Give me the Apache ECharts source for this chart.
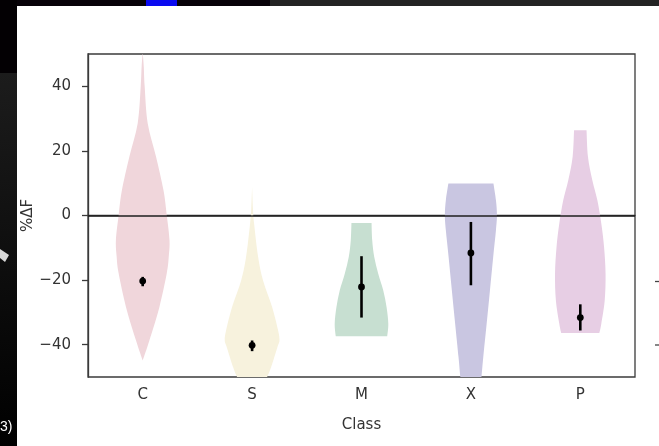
<!DOCTYPE html>
<html>
<head>
<meta charset="utf-8">
<script src="https://cdn.jsdelivr.net/npm/echarts@6/dist/echarts.min.js"></script>
<style>
  html, body { margin: 0; padding: 0; background: #fff; }
  #chart { width: 659px; height: 446px; }
</style>
</head>
<body>
<div id="chart"></div>
<script>
// Classes on the x axis
const classes = ['C', 'S', 'M', 'X', 'P'];

// Violin outlines: %ΔF levels (top to bottom) and half-widths (fraction of a class band)
const levelsC = [50.5, 46, 40, 28.5, 18.2, 7.8, 0.1, -7.7, -12.8, -17.9, -28.3, -38.7, -44.9];
const widthsC = [0.0, 0.01, 0.018, 0.046, 0.122, 0.19, 0.22, 0.245, 0.238, 0.22, 0.153, 0.061, 0.0];

const levelsS = [8.9, 2.0, -2.4, -12.8, -20.1, -28.3, -35.6, -38.7, -40.7, -46.9, -50.0, -53.0];
const widthsS = [0.0, 0.008, 0.018, 0.055, 0.10, 0.183, 0.238, 0.25, 0.232, 0.174, 0.137, 0.09];

const levelsM = [-2.3, -7.7, -12.8, -18.0, -23.2, -28.3, -33.5, -37.4];
const widthsM = [0.092, 0.098, 0.116, 0.153, 0.199, 0.229, 0.245, 0.235];

const levelsX = [9.9, 4.7, 0.1, -4.6, -12.8, -23.2, -33.5, -43.9, -49.5, -52.0];
const widthsX = [0.206, 0.229, 0.238, 0.229, 0.204, 0.174, 0.144, 0.113, 0.098, 0.09];

const levelsP = [26.4, 18.2, 10.9, 4.7, -2.5, -9.7, -18.0, -26.3, -33.5, -36.4];
const widthsP = [0.057, 0.070, 0.110, 0.156, 0.192, 0.217, 0.231, 0.223, 0.192, 0.174];

// Centre point and error bar per class
const means = [-20.3, -40.2, -22.1, -11.6, -31.6];
const barLow = [-21.9, -42.0, -31.6, -21.6, -35.6];
const barHigh = [-19.0, -38.7, -12.6, -2.0, -27.5];

// Y axis tick labels
const yTicks = [-40, -20, 0, 20, 40];

const violinLevels = [levelsC, levelsS, levelsM, levelsX, levelsP];
const violinWidths = [widthsC, widthsS, widthsM, widthsX, widthsP];
const violinColors = ['#f0d6db', '#f7f2dd', '#c7dfd1', '#c9c6e1', '#e7cee4'];

const axisColor = '#3b3b3b';
const textColor = '#333';
const font = 'DejaVu Sans';

const chart = echarts.init(document.getElementById('chart'), null, { renderer: 'canvas' });

// Smooth outline through a list of screen points (Catmull-Rom as cubic Béziers)
function curveThrough(pts) {
  let d = '';
  for (let k = 0; k < pts.length - 1; k++) {
    const p0 = pts[Math.max(k - 1, 0)];
    const p1 = pts[k];
    const p2 = pts[k + 1];
    const p3 = pts[Math.min(k + 2, pts.length - 1)];
    const c1x = p1[0] + (p2[0] - p0[0]) / 6, c1y = p1[1] + (p2[1] - p0[1]) / 6;
    const c2x = p2[0] - (p3[0] - p1[0]) / 6, c2y = p2[1] - (p3[1] - p1[1]) / 6;
    d += ' C' + c1x.toFixed(2) + ',' + c1y.toFixed(2) + ' ' + c2x.toFixed(2) + ',' + c2y.toFixed(2) +
         ' ' + p2[0].toFixed(2) + ',' + p2[1].toFixed(2);
  }
  return d;
}

function renderViolin(params, api) {
  const i = api.value(0);
  const band = api.size([1, 0])[0];
  const levels = violinLevels[i];
  const widths = violinWidths[i];
  const right = [];
  const left = [];
  for (let k = 0; k < levels.length; k++) {
    const p = api.coord([i, levels[k]]);
    right.push([p[0] + widths[k] * band, p[1]]);
    left.push([p[0] - widths[k] * band, p[1]]);
  }
  const leftUp = left.slice().reverse();
  let d = 'M' + left[0][0].toFixed(2) + ',' + left[0][1].toFixed(2);
  d += ' L' + right[0][0].toFixed(2) + ',' + right[0][1].toFixed(2);
  d += curveThrough(right);
  d += ' L' + leftUp[0][0].toFixed(2) + ',' + leftUp[0][1].toFixed(2);
  d += curveThrough(leftUp);
  d += ' Z';
  return {
    type: 'path',
    shape: { pathData: d },
    style: { fill: violinColors[i] }
  };
}

function renderBar(params, api) {
  const i = api.value(0);
  const pm = api.coord([i, api.value(1)]);
  const pl = api.coord([i, api.value(2)]);
  const ph = api.coord([i, api.value(3)]);
  return {
    type: 'group',
    children: [
      { type: 'line', shape: { x1: pl[0], y1: pl[1], x2: ph[0], y2: ph[1] },
        style: { stroke: '#000', lineWidth: 2.6 } },
      { type: 'circle', shape: { cx: pm[0], cy: pm[1], r: 3.4 },
        style: { fill: '#000' } }
    ]
  };
}

const option = {
  backgroundColor: '#ffffff',
  animation: false,
  grid: {
    left: 88, right: 24, top: 54, bottom: 69,
    show: true, borderColor: axisColor, borderWidth: 1.3, backgroundColor: '#fff'
  },
  xAxis: {
    type: 'category',
    data: classes,
    boundaryGap: true,
    axisLine: { lineStyle: { color: axisColor, width: 1.3 } },
    axisTick: { alignWithLabel: true, length: 6, lineStyle: { color: axisColor, width: 1.3 } },
    axisLabel: { color: textColor, fontSize: 15, fontFamily: font, margin: 11 },
    splitLine: { show: false },
    name: 'Class',
    nameLocation: 'middle',
    nameGap: 41,
    nameMoveOverlap: false,
    nameTextStyle: { color: textColor, fontSize: 15, fontFamily: font }
  },
  yAxis: {
    type: 'value',
    min: -50,
    max: 50,
    axisLine: { show: true, lineStyle: { color: axisColor, width: 1.3 } },
    axisTick: { show: true, length: 6, customValues: yTicks, lineStyle: { color: axisColor, width: 1.3 } },
    axisLabel: {
      color: textColor, fontSize: 15, fontFamily: font, margin: 17,
      customValues: yTicks,
      formatter: v => (v < 0 ? '\u2212' + Math.abs(v) : String(v))
    },
    splitLine: { show: false },
    name: '%\u0394F',
    nameLocation: 'middle',
    nameRotate: 90,
    nameGap: 52,
    nameMoveOverlap: false,
    nameTextStyle: { color: textColor, fontSize: 15, fontFamily: font }
  },
  series: [
    {
      type: 'custom',
      name: 'violins',
      clip: true,
      renderItem: renderViolin,
      data: classes.map((c, i) => [i]),
      encode: { x: 0 },
      z: 2
    },
    {
      type: 'custom',
      name: 'bars',
      clip: true,
      renderItem: renderBar,
      data: classes.map((c, i) => [i, means[i], barLow[i], barHigh[i]]),
      encode: { x: 0, y: [1, 2, 3] },
      z: 4,
      markLine: {
        silent: true,
        symbol: ['none', 'none'],
        label: { show: false },
        lineStyle: { color: '#1e1e1e', width: 1.5, type: 'solid' },
        data: [{ yAxis: 0 }]
      }
    }
  ],
  graphic: [
    // dark screen edges around the figure
    { type: 'rect', left: 0, top: 0, shape: { width: 270, height: 6 }, style: { fill: '#070208' }, silent: true },
    { type: 'rect', left: 146, top: 0, shape: { width: 31, height: 6 }, style: { fill: '#0a0af0' }, silent: true },
    { type: 'rect', left: 270, top: 0, shape: { width: 389, height: 6 }, style: { fill: '#232323' }, silent: true },
    { type: 'rect', left: 0, top: 0, shape: { width: 17, height: 73 }, style: { fill: '#030003' }, silent: true },
    {
      type: 'rect', left: 0, top: 73, shape: { width: 17, height: 373 }, silent: true,
      style: { fill: new echarts.graphic.LinearGradient(0, 0, 0, 1, [
        { offset: 0, color: '#1c1c1c' }, { offset: 1, color: '#000' }]) }
    },
    { type: 'polygon', shape: { points: [[0, 249], [9, 255], [5, 262], [0, 258]] }, style: { fill: '#d8d8d8' }, silent: true },
    { type: 'text', left: 0, top: 420, style: { text: '3)', fill: '#fff', font: '14px "Liberation Sans"' }, silent: true },
    // tick stubs of the neighbouring panel
    { type: 'line', shape: { x1: 655, y1: 281.5, x2: 659, y2: 281.5 }, style: { stroke: '#444', lineWidth: 1.3 }, silent: true },
    { type: 'line', shape: { x1: 655, y1: 345, x2: 659, y2: 345 }, style: { stroke: '#444', lineWidth: 1.3 }, silent: true }
  ]
};

chart.setOption(option);
</script>
</body>
</html>
